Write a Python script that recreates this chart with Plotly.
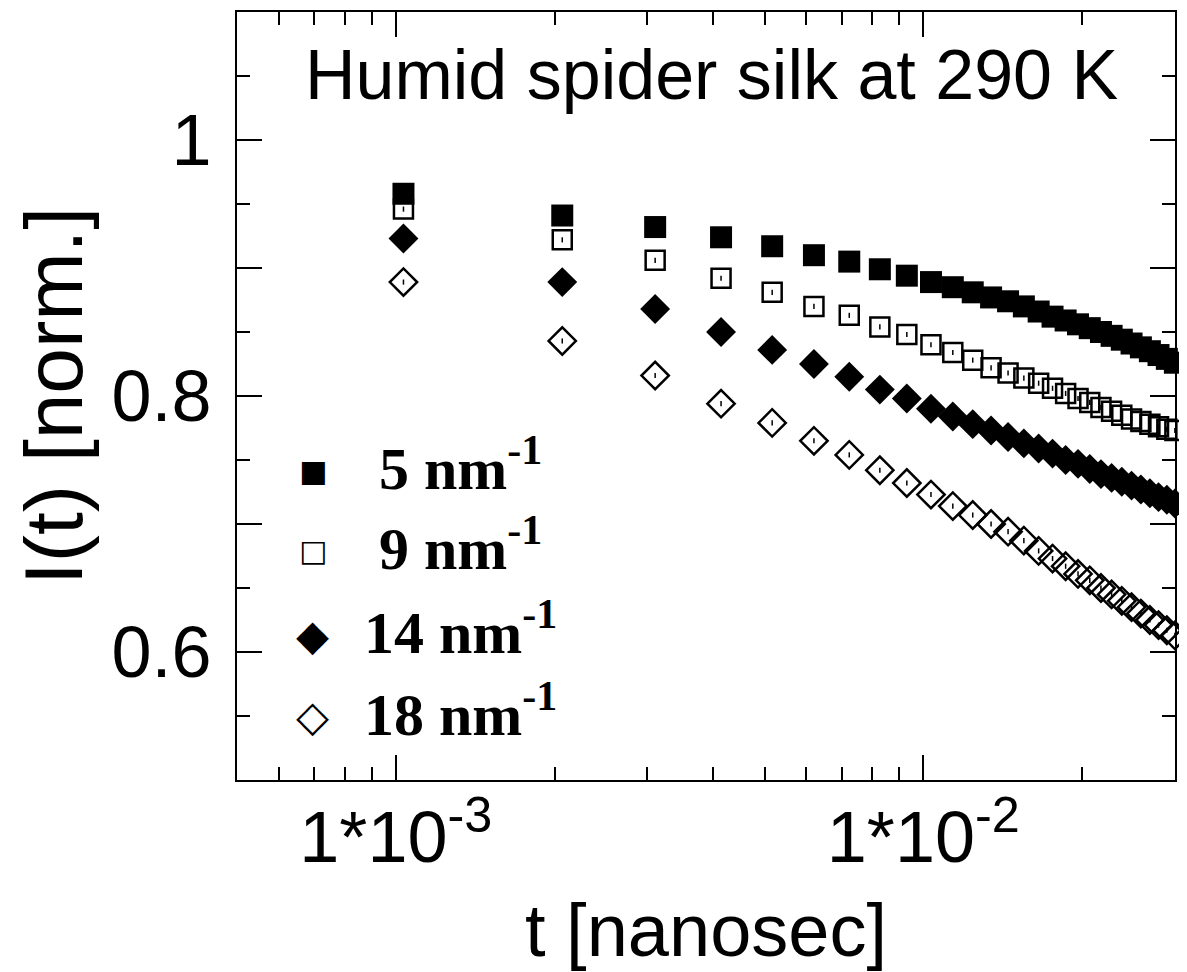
import plotly.graph_objects as go

# thời gian (ns) và cường độ chuẩn hoá cho từng q
t_ns = [0.001034, 0.002068, 0.003102, 0.004136, 0.005170, 0.006204, 0.007238,
        0.008272, 0.009306, 0.01034, 0.011374, 0.012408, 0.013442, 0.014476,
        0.01551, 0.016544, 0.017578, 0.018612, 0.019646, 0.02068, 0.021714,
        0.022748, 0.023782, 0.024816, 0.02585, 0.026884, 0.027918, 0.028952,
        0.029986]

q5 = [0.958, 0.941, 0.932, 0.924, 0.917, 0.910, 0.905, 0.899, 0.894, 0.889,
      0.885, 0.881, 0.877, 0.874, 0.870, 0.866, 0.862, 0.859, 0.856, 0.853,
      0.850, 0.847, 0.844, 0.841, 0.838, 0.835, 0.832, 0.829, 0.826]
q9 = [0.946, 0.922, 0.906, 0.892, 0.881, 0.870, 0.863, 0.854, 0.848, 0.840,
      0.834, 0.828, 0.822, 0.818, 0.814, 0.810, 0.806, 0.802, 0.798, 0.795,
      0.791, 0.788, 0.785, 0.782, 0.780, 0.778, 0.776, 0.774, 0.773]
q14 = [0.923, 0.889, 0.868, 0.850, 0.836, 0.825, 0.815, 0.805, 0.798, 0.790,
       0.784, 0.778, 0.773, 0.768, 0.763, 0.759, 0.755, 0.750, 0.747, 0.743,
       0.739, 0.736, 0.733, 0.730, 0.727, 0.724, 0.721, 0.719, 0.716]
q18 = [0.889, 0.843, 0.816, 0.794, 0.779, 0.765, 0.754, 0.742, 0.732, 0.723,
       0.714, 0.707, 0.700, 0.694, 0.687, 0.679, 0.673, 0.667, 0.661, 0.656,
       0.650, 0.645, 0.640, 0.635, 0.630, 0.625, 0.621, 0.617, 0.613]
err = 0.002

series_names = ["\u00a05 nm<sup>-1</sup>", "\u00a09 nm<sup>-1</sup>",
                "14 nm<sup>-1</sup>", "18 nm<sup>-1</sup>"]
legend_glyphs = ["\u25a0", "\u25a1", "\u25c6", "\u25c7"]
glyph_sizes = [30, 30, 43, 43]

x_tickvals = [0.001, 0.01]
x_ticktext = ["1*10<sup>-3</sup>", "1*10<sup>-2</sup>"]
x_minor = [5e-4, 6e-4, 7e-4, 8e-4, 9e-4, 0.002, 0.003, 0.004, 0.005, 0.006,
           0.007, 0.008, 0.009, 0.02, 0.03]
y_tickvals = [0.6, 0.7, 0.8, 0.9, 1.0]
y_ticktext = ["0.6", "", "0.8", "", "1"]

styles = [
    dict(symbol="square", size=22, color="black", line=dict(width=0)),
    dict(symbol="square-open", size=19, color="black", line=dict(width=2.5, color="black")),
    dict(symbol="diamond", size=23, color="black", line=dict(width=0)),
    dict(symbol="diamond-open", size=21, color="black", line=dict(width=2.5, color="black")),
]

fig = go.Figure()
for ys, name, mk in zip([q5, q9, q14, q18], series_names, styles):
    fig.add_trace(go.Scatter(
        x=t_ns, y=ys, mode="markers", name=name,
        marker=mk, cliponaxis=False, showlegend=False,
        error_y=dict(type="constant", value=err, color="black", thickness=1.5, width=0),
    ))

# chú thích tự vẽ (ký hiệu + nhãn), để ký hiệu to như trong hình gốc
legend_y = [0.403, 0.299, 0.189, 0.083]
annots = [dict(text="Humid spider silk at 290 K", x=0.506, y=0.918,
               xref="paper", yref="paper", showarrow=False,
               xanchor="center", yanchor="middle",
               font=dict(family="Liberation Sans, Arial", size=70, color="black"))]
for g, gs, name, yy in zip(legend_glyphs, glyph_sizes, series_names, legend_y):
    annots.append(dict(text=g, x=0.0805, y=yy, xref="paper", yref="paper",
                       showarrow=False, xanchor="center", yanchor="middle",
                       font=dict(family="DejaVu Sans", size=gs, color="black")))
    annots.append(dict(text="<b>" + name + "</b>", x=0.1335, y=yy + 0.008, xref="paper", yref="paper",
                       showarrow=False, xanchor="left", yanchor="middle",
                       font=dict(family="Liberation Serif, Times New Roman", size=60, color="black")))

tick_font = dict(family="Liberation Sans, Arial, Helvetica", size=72, color="black")
xtitle_font = dict(family="Liberation Sans, Arial, Helvetica", size=74, color="black")
ytitle_font = dict(family="Liberation Sans, Arial, Helvetica", size=82, color="black")

# trang HTML có lề 8px nên hình nhỏ hơn cửa sổ 8px
fig.update_layout(
    width=1179, height=964,
    margin=dict(l=229, r=12, t=4, b=192),
    paper_bgcolor="white", plot_bgcolor="white",
    showlegend=False,
    annotations=annots,
    xaxis=dict(type="log", range=[-3.30103, -1.522879], automargin=False,
               tickvals=x_tickvals, ticktext=x_ticktext,
               ticks="inside", ticklen=25, tickwidth=2, tickcolor="black",
               minor=dict(tickvals=x_minor, ticks="inside", ticklen=13, tickwidth=2, tickcolor="black"),
               showline=True, linewidth=2, linecolor="black", mirror="ticks",
               showgrid=False, zeroline=False, tickfont=tick_font, ticklabelstandoff=-6,
               title=dict(text="t [nanosec]", font=xtitle_font, standoff=28)),
    yaxis=dict(range=[0.5, 1.1], automargin=False,
               tickvals=y_tickvals, ticktext=y_ticktext,
               ticks="inside", ticklen=25, tickwidth=2, tickcolor="black",
               minor=dict(dtick=0.05, ticks="inside", ticklen=13, tickwidth=2, tickcolor="black"),
               showline=True, linewidth=2, linecolor="black", mirror="ticks",
               showgrid=False, zeroline=False, tickfont=tick_font, ticklabelstandoff=9,
               title=dict(text="I(t) [norm.]", font=ytitle_font, standoff=22)),
)

fig.write_html("out.html")
